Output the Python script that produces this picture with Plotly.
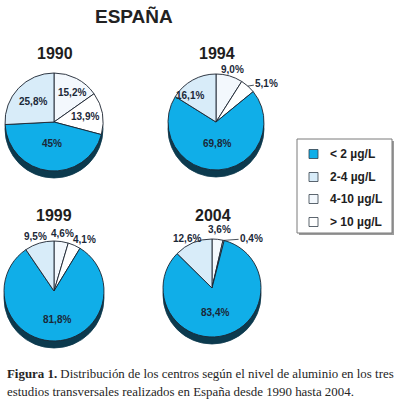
import math
import plotly.graph_objects as go

W, H = 397, 405

# ---------------- data ----------------
categories = ["< 2 µg/L", "2-4 µg/L", "4-10 µg/L", "> 10 µg/L"]
years = ["1990", "1994", "1999", "2004"]
# slices listed clockwise from 12 o'clock
slice_order = ["4-10 µg/L", "> 10 µg/L", "< 2 µg/L", "2-4 µg/L"]
pct_1990 = [15.2, 13.9, 45.0, 25.8]
pct_1994 = [9.0, 5.1, 69.8, 16.1]
pct_1999 = [4.6, 4.1, 81.8, 9.5]
pct_2004 = [3.6, 0.4, 83.4, 12.6]
text_1990 = ["15,2%", "13,9%", "45%", "25,8%"]
text_1994 = ["9,0%", "5,1%", "69,8%", "16,1%"]
text_1999 = ["4,6%", "4,1%", "81,8%", "9,5%"]
text_2004 = ["3,6%", "0,4%", "83,4%", "12,6%"]
title_text = "ESPAÑA"
caption_bold = "Figura 1."
caption_line1 = " Distribución de los centros según el nivel de aluminio en los tres"
caption_line2 = "estudios transversales realizados en España desde 1990 hasta 2004."

# ---------------- styles ----------------
colors = {
    "< 2 µg/L": "#10aee8",
    "2-4 µg/L": "#d8ecf9",
    "4-10 µg/L": "#f3f8fd",
    "> 10 µg/L": "#ffffff",
}
shadow_color = "#0c3a4e"
outline = "#1c2430"
label_color = "#1b2838"

values = [pct_1990, pct_1994, pct_1999, pct_2004]
texts = [text_1990, text_1994, text_1999, text_2004]
# pie geometry (pixels): center x, center y, radius
geom = [(54, 122, 49), (216, 122, 48), (54, 291, 50), (212, 288, 49)]
year_pos = [(55, 53), (217, 53), (54, 215), (213, 215)]
# per-slice label placement: (radius fraction, angle nudge deg, leader offset or None)
label_style = [
    [(0.71, 4, None), (0.65, 1, None), (0.45, 0, None), (0.60, 1, None)],
    [(1.15, 1, None), (1.0, 0, (19, -3)), (0.44, 0, None), (0.77, -15, None)],
    [(1.17, 0, None), (1.20, 7, None), (0.58, -4, None), (1.15, -2, None)],
    [(1.20, 1, None), (1.0, 0, (28, -2)), (0.50, 8, None), (1.14, -4, None)],
]
SHADOW = 7


def px(x):
    return x / W


def py(y):
    return 1 - y / H


def text_ann(x, y, text, font, **kw):
    d = dict(x=px(x), y=py(y), xref="paper", yref="paper", text=text, showarrow=False,
             font=font, xanchor="center", yanchor="middle")
    d.update(kw)
    return d


fig = go.Figure()
annotations = []
shapes = []

for i, (vals, txts) in enumerate(zip(values, texts)):
    cx, cy, r = geom[i]
    fig.add_trace(go.Pie(
        values=[1], labels=["shadow"], sort=False,
        marker=dict(colors=[shadow_color], line=dict(color=shadow_color, width=0.8)),
        textinfo="none", hoverinfo="skip", showlegend=False,
        domain=dict(x=[px(cx - r), px(cx + r)], y=[py(cy + r + SHADOW), py(cy - r + SHADOW)]),
    ))
    fig.add_trace(go.Pie(
        values=vals, labels=slice_order, sort=False, direction="clockwise", rotation=0,
        marker=dict(colors=[colors[c] for c in slice_order], line=dict(color=outline, width=0.9)),
        textinfo="none", showlegend=False, name=years[i],
        domain=dict(x=[px(cx - r), px(cx + r)], y=[py(cy + r), py(cy - r)]),
    ))
    total = sum(vals)
    cum = 0.0
    for v, t, (f, nudge, leader) in zip(vals, txts, label_style[i]):
        mid = (cum + v / 2) / total * 360.0
        cum += v
        a = math.radians(mid + nudge)
        lx = cx + f * r * math.sin(a)
        ly = cy - f * r * math.cos(a)
        font = dict(family="Liberation Sans, Arial", size=10, color=label_color)
        if leader is None:
            annotations.append(text_ann(lx, ly, "<b>%s</b>" % t, font))
        else:
            annotations.append(text_ann(lx, ly, "<b>%s</b>" % t, font, showarrow=True,
                                        arrowhead=0, arrowwidth=0.8, arrowcolor=outline,
                                        standoff=0, ax=leader[0], ay=leader[1]))
    yx, yy = year_pos[i]
    annotations.append(text_ann(yx, yy, "<b>%s</b>" % years[i],
                                dict(family="Liberation Sans, Arial", size=16, color="#1e1e1e")))

# title
annotations.append(text_ann(134, 16, "<b>%s</b>" % title_text,
                            dict(family="Liberation Sans, Arial", size=19, color="#222222")))

# legend (manual)
lx0, ly0, lx1, ly1 = 297, 139, 392, 233
shapes.append(dict(type="rect", xref="paper", yref="paper",
                   x0=px(lx0 + 2), x1=px(lx1 + 2), y0=py(ly1 + 2), y1=py(ly0 + 2),
                   fillcolor="#9a9a9a", line=dict(width=0), layer="above"))
shapes.append(dict(type="rect", xref="paper", yref="paper",
                   x0=px(lx0), x1=px(lx1), y0=py(ly1), y1=py(ly0),
                   fillcolor="#ffffff", line=dict(color="#7a7a7a", width=1), layer="above"))
item_y = [154, 177, 199, 222]
for cat, yy in zip(categories, item_y):
    shapes.append(dict(type="rect", xref="paper", yref="paper",
                       x0=px(309), x1=px(318), y0=py(yy + 4.5), y1=py(yy - 4.5),
                       fillcolor=colors[cat], line=dict(color="#333f4a", width=0.8), layer="above"))
    annotations.append(text_ann(328, yy, "<b>%s</b>" % cat,
                                dict(family="Liberation Sans, Arial", size=12, color="#1e1e1e"),
                                xanchor="left"))

# caption
cap_font = dict(family="Liberation Serif, Times New Roman, serif", size=12.9, color="#262626")
annotations.append(text_ann(5, 374, "<b>%s</b>%s" % (caption_bold, caption_line1), cap_font,
                            xanchor="left"))
annotations.append(text_ann(5, 392, caption_line2, cap_font, xanchor="left"))

fig.update_layout(
    width=W, height=H, margin=dict(l=0, r=0, t=0, b=0),
    paper_bgcolor="white", plot_bgcolor="white",
    showlegend=False, annotations=annotations, shapes=shapes,
)
fig.write_html("out.html", config={"displayModeBar": False},
               post_script="document.body.style.margin='0';")
